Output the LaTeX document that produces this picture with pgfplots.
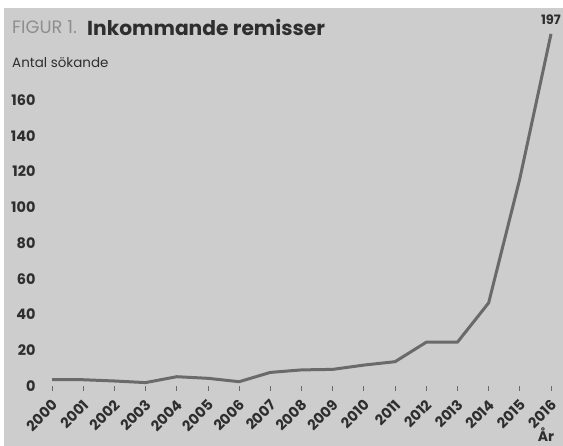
\documentclass[border=0pt]{standalone}
\usepackage{fontspec}
\setmainfont{Poppins}
\usepackage{pgfplots}
\pgfplotsset{compat=1.18}

\definecolor{bg}{HTML}{CDCDCD}
\definecolor{linegray}{HTML}{6A6A6A}
\definecolor{txt}{HTML}{2E2E2E}
\definecolor{figgray}{HTML}{8E8E8E}

\begin{document}
\begin{tikzpicture}[x=1bp,y=1bp]
  \fill[white] (0,0) rectangle (563,446);
  \fill[bg] (4,0) rectangle (563,438);
  \useasboundingbox (0,0) rectangle (563,446);

  \node[anchor=west, text=figgray, inner sep=0pt]
    at (12,419) {\fontsize{18}{21}\selectfont FIGUR 1.};
  \node[anchor=west, text=txt, inner sep=0pt]
    at (87,419) {\fontsize{20.3}{24}\selectfont\bfseries Inkommande remisser};
  \node[anchor=west, text=txt, inner sep=0pt]
    at (12,383) {\fontsize{13.5}{16}\selectfont Antal sökande};
  \node[text=txt, inner sep=0pt] at (551,426) {\fontsize{13}{15}\selectfont\bfseries 197};
  \node[text=txt, inner sep=0pt] at (546,11) {\fontsize{14}{16}\selectfont\bfseries År};

  \begin{axis}[
      at={(52bp,60bp)},
      anchor=south west,
      scale only axis,
      width=499bp,
      height=352.1bp,
      xmin=2000, xmax=2016,
      ymin=0, ymax=197,
      clip=false,
      axis x line*=bottom,
      axis y line*=left,
      axis line style={draw=none},
      xtick={2000,2001,...,2016},
      ytick={0,20,...,160},
      tick align=outside,
      major tick length=5bp,
      xtick style={linegray, line width=0.8bp},
      ytick style={draw=none},
      /pgf/number format/1000 sep={},
      /pgf/number format/assume math mode=true,
      tick label style={text=txt, font=\fontsize{14.5}{17}\selectfont\bfseries},
      yticklabel style={anchor=east, xshift=-8bp},
      xticklabel style={xshift=5bp, yshift=-9bp, rotate=45, anchor=east},
    ]
    \addplot[linegray, line width=3bp, line join=round] coordinates {
      (2000,3.5) (2001,3.5) (2002,2.8) (2003,1.9) (2004,5.2) (2005,4.3)
      (2006,2.4) (2007,7.6) (2008,9.0) (2009,9.3) (2010,11.7) (2011,13.6)
      (2012,24.5) (2013,24.5) (2014,46.5) (2015,116) (2016,197)
    };
  \end{axis}
\end{tikzpicture}
\end{document}
